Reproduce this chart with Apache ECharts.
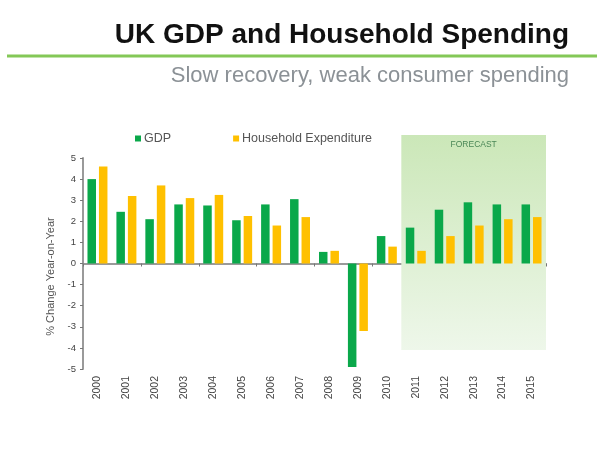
<!DOCTYPE html>
<html>
<head>
<meta charset="utf-8">
<script src="https://cdn.jsdelivr.net/npm/echarts@6/dist/echarts.min.js"></script>
<style>
  html, body { margin: 0; padding: 0; background: #fff; }
  #chart { width: 597px; height: 473px; }
</style>
</head>
<body>
<div id="chart"></div>
<script>
// Year labels along the category axis
const years = ['2000', '2001', '2002', '2003', '2004', '2005', '2006', '2007',
               '2008', '2009', '2010', '2011', '2012', '2013', '2014', '2015'];
// Annual % change, year-on-year
const gdp = [4.0, 2.45, 2.1, 2.8, 2.75, 2.05, 2.8, 3.05, 0.55, -4.9, 1.3, 1.7, 2.55, 2.9, 2.8, 2.8];
const householdExpenditure = [4.6, 3.2, 3.7, 3.1, 3.25, 2.25, 1.8, 2.2, 0.6, -3.2, 0.8, 0.6, 1.3, 1.8, 2.1, 2.2];
// Forecast period, in category-index units (start of 2011 to end of 2015)
const forecastSpan = [11, 16];
// Value axis
const yMin = -5, yMax = 5, yStep = 1;

const FONT = '"Liberation Sans", Arial, sans-serif';
const chart = echarts.init(document.getElementById('chart'), null, { renderer: 'canvas' });

chart.setOption({
  animation: false,
  backgroundColor: '#ffffff',
  title: [
    {
      text: 'UK GDP and Household Spending',
      right: 23, top: 16,
      textStyle: { fontFamily: FONT, fontSize: 28, fontWeight: 'bold', color: '#111111' }
    },
    {
      text: 'Slow recovery, weak consumer spending',
      right: 23, top: 60,
      textStyle: { fontFamily: FONT, fontSize: 22, fontWeight: 'normal', color: '#8b9196' }
    }
  ],
  graphic: [
    {
      type: 'line',
      shape: { x1: 7, y1: 56, x2: 597, y2: 56 },
      style: { stroke: '#84c857', lineWidth: 3 }
    }
  ],
  legend: {
    left: 130, top: 127,
    itemWidth: 6, itemHeight: 6, itemGap: 62,
    icon: 'rect',
    textStyle: { fontFamily: FONT, fontSize: 12.5, color: '#555555', padding: [0, 0, 0, -2] },
    data: ['GDP', 'Household Expenditure']
  },
  grid: [
    { left: 83, right: 51, top: 158, bottom: 104 },
    // backdrop for the forecast band
    { left: 83, right: 51, top: 135, bottom: 123 }
  ],
  xAxis: [
    {
      type: 'category', data: years, gridIndex: 0,
      axisLine: { onZero: true, lineStyle: { color: '#9a9a9a', width: 2 } },
      axisTick: { show: true, inside: false, length: 3, lineStyle: { color: '#777', width: 1 } },
      axisLabel: { show: false },
      splitLine: { show: false }
    },
    {
      type: 'category', data: years, gridIndex: 0, position: 'bottom',
      axisLine: { show: false, onZero: false },
      axisTick: { show: false },
      axisLabel: { rotate: 90, margin: 7, fontFamily: FONT, fontSize: 10.5, color: '#444444' },
      splitLine: { show: false }
    },
    {
      type: 'value', gridIndex: 1, min: 0, max: years.length, show: false
    }
  ],
  yAxis: [
    {
      type: 'value', gridIndex: 0, min: yMin, max: yMax, interval: yStep,
      name: '% Change Year-on-Year',
      nameLocation: 'middle', nameGap: 25, nameRotate: 90,
      nameTextStyle: { fontFamily: FONT, fontSize: 11, color: '#555555', padding: [0, 26, 0, 0] },
      axisLine: { show: true, lineStyle: { color: '#9a9a9a', width: 2 } },
      axisTick: { show: true, length: 3, lineStyle: { color: '#777', width: 1 } },
      axisLabel: { margin: 7, fontFamily: FONT, fontSize: 9.5, color: '#444444' },
      splitLine: { show: false }
    },
    {
      type: 'value', gridIndex: 1, min: 0, max: 1, show: false
    }
  ],
  series: [
    {
      name: 'forecast',
      type: 'line',
      xAxisIndex: 2, yAxisIndex: 1,
      data: [],
      z: 0,
      silent: true,
      markArea: {
        silent: true,
        itemStyle: {
          color: new echarts.graphic.LinearGradient(0, 0, 0, 1, [
            { offset: 0, color: '#cbe7b8' },
            { offset: 1, color: '#eef7ea' }
          ])
        },
        label: {
          show: true, position: 'insideTop', distance: 5,
          formatter: 'FORECAST',
          fontFamily: FONT, fontSize: 8.5, color: '#4a8757'
        },
        data: [[
          { xAxis: forecastSpan[0], yAxis: 0 },
          { xAxis: forecastSpan[1], yAxis: 1 }
        ]]
      }
    },
    {
      name: 'GDP',
      type: 'bar',
      xAxisIndex: 0, yAxisIndex: 0,
      data: gdp,
      barWidth: 8.5,
      barGap: '35%',
      z: 3,
      itemStyle: { color: '#0aa84a' }
    },
    {
      name: 'Household Expenditure',
      type: 'bar',
      xAxisIndex: 0, yAxisIndex: 0,
      data: householdExpenditure,
      barWidth: 8.5,
      barGap: '35%',
      z: 3,
      itemStyle: { color: '#ffc000' }
    }
  ]
});
</script>
</body>
</html>
